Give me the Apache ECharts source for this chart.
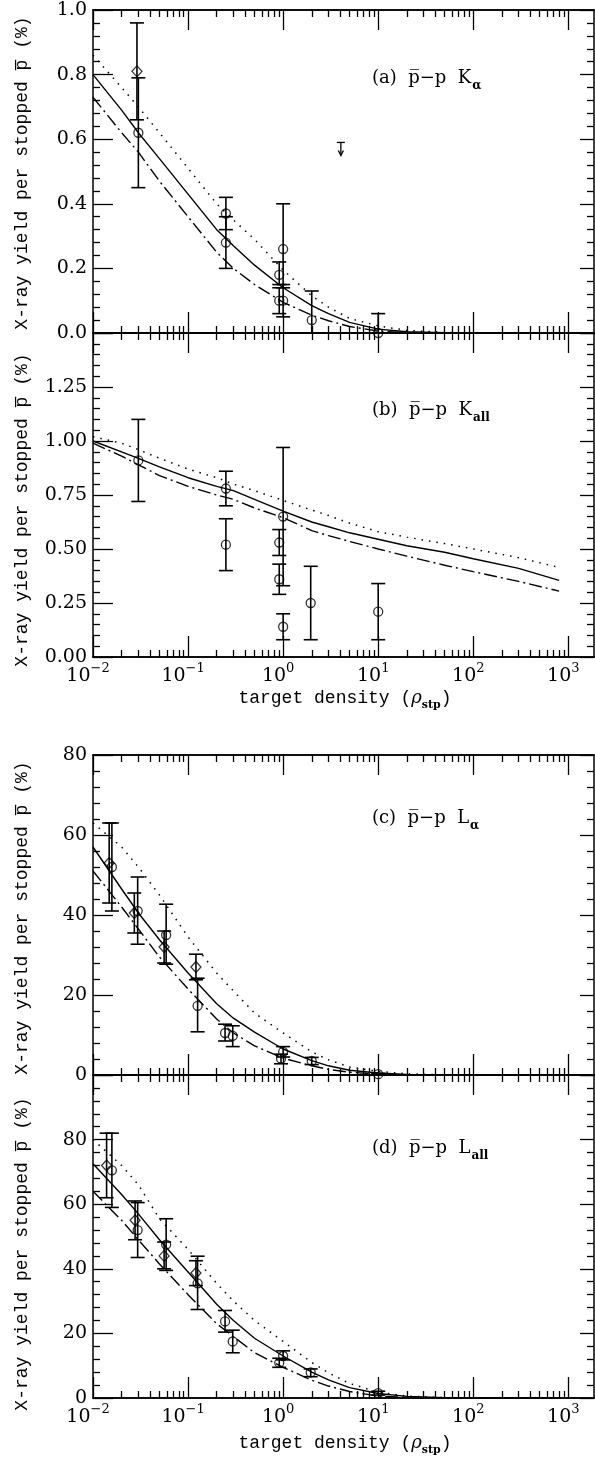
<!DOCTYPE html>
<html>
<head>
<meta charset="utf-8">
<script src="https://cdn.jsdelivr.net/npm/echarts@6/dist/echarts.min.js"></script>
<style>
html,body{margin:0;padding:0;background:#fff;}
#main{width:595px;height:1461px;}
</style>
</head>
<body>
<div id="main"></div>
<script>
var lg = Math.log10;
var FONT = 'DejaVu Serif';
var MONO = 'Liberation Mono';
var XMIN = -2, XMAX = 3.27;

var curveRho = [0.01,0.02,0.03,0.05,0.1,0.2,0.3,0.5,1,2,3,5,10,20,50,100,300,800];

// (a) pbar-p K alpha
var kaSolid  = [0.80,0.69,0.62,0.54,0.43,0.32,0.27,0.21,0.14,0.085,0.06,0.033,0.012,0.004,0.001,0,0,0];
var kaDotted = [0.86,0.76,0.70,0.62,0.51,0.40,0.35,0.29,0.195,0.115,0.08,0.045,0.022,0.008,0.002,0,0,0];
var kaDashed = [0.73,0.62,0.56,0.47,0.36,0.25,0.20,0.15,0.095,0.055,0.038,0.02,0.006,0.001,0,0,0,0];
// [density, yield, low, high]
var kaCircles = [[0.030,0.62,0.45,0.79],[0.25,0.37,0.32,0.42],[0.25,0.28,0.20,0.36],[1.0,0.26,0.14,0.40],
                 [0.91,0.18,0.15,0.22],[0.91,0.10,0.06,0.14],[1.0,0.10,0.05,0.15],[2.0,0.04,0.0,0.13],[10,0.0,0.0,0.06]];
var kaDiamonds = [[0.029,0.81,0.66,0.96]];
var kaLimits = [[4.05,0.59]];

// (b) pbar-p K all
var kallSolid  = [1.00,0.95,0.92,0.88,0.83,0.79,0.77,0.73,0.675,0.625,0.603,0.575,0.545,0.515,0.485,0.455,0.41,0.355];
var kallDotted = [1.02,0.99,0.96,0.92,0.87,0.83,0.80,0.77,0.725,0.68,0.655,0.62,0.58,0.555,0.525,0.50,0.46,0.415];
var kallDashed = [0.99,0.93,0.89,0.84,0.79,0.75,0.73,0.69,0.645,0.585,0.562,0.535,0.50,0.467,0.425,0.395,0.35,0.305];
var kallCircles = [[0.030,0.91,0.72,1.10],[0.25,0.78,0.70,0.86],[0.25,0.52,0.40,0.64],[1.0,0.65,0.33,0.97],
                   [0.91,0.53,0.47,0.59],[0.91,0.36,0.29,0.43],[1.0,0.14,0.08,0.20],[1.95,0.25,0.08,0.42],[10,0.21,0.08,0.34]];

// (c) pbar-p L alpha
var laSolid  = [57,46.5,40.5,33.8,25.5,17.8,14.2,10.7,6.5,3.6,2.3,1.2,0.5,0.15,0.03,0,0,0];
var laDotted = [63,57,52,45,34.5,25.5,21,15.5,10.5,5.8,3.8,2.0,0.9,0.3,0.05,0,0,0];
var laDashed = [51,42,36.5,29.5,21.5,14,10.5,7.3,4.2,2.3,1.4,0.7,0.2,0.05,0,0,0,0];
var laCircles = [[0.0158,52,41,63],[0.0295,41,32.7,49.5],[0.0588,35,27.7,42.7],[0.126,17.3,10.8,24.2],[0.245,10.5,8.5,12.7],
                 [0.295,9.8,7.1,12.3],[1.0,5.8,4.5,7.1],[0.95,4.1,2.8,5.2],[2.0,3.5,2.6,4.4],[10,0.2,0,0.4]];
var laDiamonds = [[0.0148,53,43,63],[0.0272,40.5,35.5,45.5],[0.056,32,28,36],[0.121,27,23.8,30.2]];

// (d) pbar-p L all
var lallSolid  = [72.5,63,57,49,39,29,24,18.5,13,8,5.6,3.2,1.4,0.5,0.1,0,0,0];
var lallDotted = [80,72,66,55.5,46,35.5,30,24,17.5,11,7.8,4.5,1.8,0.6,0.1,0,0,0];
var lallDashed = [64,55,49,41.5,32,23,19,14,9.5,5.5,3.7,2.0,0.6,0.2,0,0,0,0];
var lallCircles = [[0.0158,70.5,59,82],[0.0295,52,43.5,60.5],[0.0588,47.5,39.5,55.5],[0.126,35.5,27.4,43.9],[0.245,23.7,20.4,27.1],
                   [0.295,17.5,14,21],[1.0,13,11.8,14.6],[0.91,10.9,9.5,12.3],[1.95,7.9,6.6,9.0],[10,1.5,0.9,2.1]];
var lallDiamonds = [[0.0139,72,62,82],[0.0277,55,49,61],[0.056,44,40,48.3],[0.121,38.7,34.8,42.5]];

var xTickExp = [-2,-1,0,1,2,3];
var panelTags = ['(a)','(b)','(c)','(d)'];
var panelLines = ['K','K','L','L'];
var panelSubs = ['\u03b1','all','\u03b1','all'];
var yMax = [1.0,1.5,80,100];
var yStep = [0.2,0.25,20,20];

var grids = [
    {left:93, top:10, width:501, height:323},
    {left:93, top:333, width:501, height:324},
    {left:93, top:755, width:501, height:320},
    {left:93, top:1075, width:501, height:323}
];

var minorVals = [];
for (var n = -2; n <= 3; n++) {
    for (var k = 2; k <= 9; k++) {
        var v = lg(k * Math.pow(10, n));
        if (v < XMAX) minorVals.push(v);
    }
}

var black = {color:'#000', width:1.5};
var tickStyle = {color:'#000', width:1.3};

function xAx(gi, pos, vals, len, labels) {
    var ax = {
        type:'value', gridIndex:gi, position:pos, min:XMIN, max:XMAX,
        axisLine:{show:true, onZero:false, lineStyle:black},
        splitLine:{show:false},
        axisTick:{show:true, inside:true, length:len, customValues:vals, lineStyle:tickStyle},
        axisLabel:{show:false}
    };
    if (labels) {
        ax.axisLabel = {
            show:true, customValues:xTickExp, margin:5, padding:[0,10,0,0],
            formatter:function (v) {
                var e = Math.round(v);
                return '{b|10}{s|' + (e < 0 ? '\u2212' + (-e) : e) + '}';
            },
            rich:{
                b:{fontFamily:FONT, fontSize:19, color:'#000', lineHeight:24, verticalAlign:'bottom'},
                s:{fontFamily:FONT, fontSize:13, color:'#000', lineHeight:13, verticalAlign:'top'}
            }
        };
    }
    return ax;
}

function yAx(gi, pos, fmt) {
    var ax = {
        type:'value', gridIndex:gi, position:pos, min:0, max:yMax[gi], interval:yStep[gi],
        axisLine:{show:true, onZero:false, lineStyle:black},
        splitLine:{show:false},
        axisTick:{show:true, inside:true, length:pos === 'left' ? 20 : 14, lineStyle:tickStyle},
        minorTick:{show:true, splitNumber:5, length:7, lineStyle:tickStyle},
        axisLabel:{show:false}
    };
    if (fmt) {
        ax.axisLabel = {show:true, formatter:fmt, color:'#000', fontFamily:FONT, fontSize:19, margin:6};
    }
    return ax;
}

var yFmt = [
    function (v) { return v.toFixed(1); },
    function (v) { return v >= 1.5 ? '' : v.toFixed(2); },
    function (v) { return String(v); },
    function (v) { return v >= 100 ? '' : String(v); }
];

var xAxes = [], yAxes = [];
for (var g = 0; g < 4; g++) {
    var lab = (g === 1 || g === 3);
    xAxes.push(xAx(g, 'bottom', xTickExp, 21, lab));
    xAxes.push(xAx(g, 'bottom', minorVals, 7, false));
    xAxes.push(xAx(g, 'top', xTickExp, 20, false));
    xAxes.push(xAx(g, 'top', minorVals, 7, false));
    yAxes.push(yAx(g, 'left', yFmt[g]));
    yAxes.push(yAx(g, 'right', null));
}

function errRender(params, api) {
    var x = api.value(0);
    var top = api.coord([x, api.value(3)]);
    var bot = api.coord([x, api.value(2)]);
    var w = 7;
    var st = {stroke:'#000', lineWidth:1.6};
    return {type:'group', children:[
        {type:'line', shape:{x1:top[0], y1:top[1], x2:bot[0], y2:bot[1]}, style:st},
        {type:'line', shape:{x1:top[0]-w, y1:top[1], x2:top[0]+w, y2:top[1]}, style:st},
        {type:'line', shape:{x1:bot[0]-w, y1:bot[1], x2:bot[0]+w, y2:bot[1]}, style:st}
    ]};
}

function limitRender(params, api) {
    var p = api.coord([api.value(0), api.value(1)]);
    var st = {stroke:'#000', lineWidth:1.3, fill:null};
    return {type:'group', children:[
        {type:'line', shape:{x1:p[0]-4, y1:p[1], x2:p[0]+4, y2:p[1]}, style:st},
        {type:'line', shape:{x1:p[0], y1:p[1], x2:p[0], y2:p[1]+13}, style:st},
        {type:'polyline', shape:{points:[[p[0]-2.5,p[1]+8],[p[0],p[1]+13],[p[0]+2.5,p[1]+8]]}, style:st}
    ]};
}

function toLog(pts) {
    return pts.map(function (p) { return [lg(p[0]), p[1], p[2], p[3]]; });
}

var series = [];
function addPanel(gi, solid, dotted, dashed, circles, diamonds) {
    var xi = gi * 4, yi = gi * 2;
    var curves = [[solid, 'solid', 1.4], [dotted, [1.5, 6], 1.5], [dashed, [13, 4, 2, 4], 1.4]];
    curves.forEach(function (c) {
        series.push({
            type:'line', xAxisIndex:xi, yAxisIndex:yi, showSymbol:false, smooth:false,
            lineStyle:{color:'#000', width:c[2], type:c[1]}, z:2,
            data:curveRho.map(function (r, i) { return [lg(r), c[0][i]]; })
        });
    });
    var pts = circles.concat(diamonds);
    series.push({
        type:'custom', xAxisIndex:xi, yAxisIndex:yi, renderItem:errRender, z:3,
        encode:{x:0, y:1}, data:toLog(pts)
    });
    series.push({
        type:'scatter', xAxisIndex:xi, yAxisIndex:yi, symbol:'circle', symbolSize:9, z:4,
        itemStyle:{color:'rgba(255,255,255,0)', borderColor:'#000', borderWidth:1.3},
        data:toLog(circles)
    });
    if (diamonds.length) {
        series.push({
            type:'scatter', xAxisIndex:xi, yAxisIndex:yi, symbol:'diamond', symbolSize:[10,11], z:4,
            itemStyle:{color:'rgba(255,255,255,0)', borderColor:'#000', borderWidth:1.3},
            data:toLog(diamonds)
        });
    }
}
addPanel(0, kaSolid, kaDotted, kaDashed, kaCircles, kaDiamonds);
addPanel(1, kallSolid, kallDotted, kallDashed, kallCircles, []);
addPanel(2, laSolid, laDotted, laDashed, laCircles, laDiamonds);
addPanel(3, lallSolid, lallDotted, lallDashed, lallCircles, lallDiamonds);
series.push({
    type:'custom', xAxisIndex:0, yAxisIndex:0, renderItem:limitRender, z:4,
    encode:{x:0, y:1}, data:kaLimits.map(function (p) { return [lg(p[0]), p[1]]; })
});

// texts
var graphics = [];
var yTitleY = [173, 510, 918, 1254];
var tagY = [80, 412, 820, 1150];
for (var i = 0; i < 4; i++) {
    graphics.push({
        type:'text', x:22, y:yTitleY[i], rotation:Math.PI / 2,
        style:{text:'X-ray yield per stopped p\u0305 (%)', fontFamily:MONO, fontSize:18, fill:'#000',
               textAlign:'center', textVerticalAlign:'middle'}
    });
    graphics.push({
        type:'text', x:372, y:tagY[i],
        style:{
            text:'{b|' + panelTags[i] + '  p\u0305\u2212p  ' + panelLines[i] + '}{s|' + panelSubs[i] + '}',
            textVerticalAlign:'middle', fill:'#000',
            rich:{
                b:{fontFamily:FONT, fontSize:18, lineHeight:22, verticalAlign:'top'},
                s:{fontFamily:FONT, fontSize:12, fontWeight:'bold', lineHeight:12, verticalAlign:'top', padding:[11,0,0,1]}
            }
        }
    });
}
[700, 1445].forEach(function (yy) {
    graphics.push({
        type:'text', x:345, y:yy,
        style:{
            text:'{b|target density (}{r|\u03c1}{s|stp}{b|)}',
            textAlign:'center', textVerticalAlign:'middle', fill:'#000',
            rich:{
                b:{fontFamily:MONO, fontSize:18, lineHeight:22, verticalAlign:'top'},
                r:{fontFamily:FONT, fontSize:18, fontStyle:'italic', lineHeight:22, verticalAlign:'top'},
                s:{fontFamily:FONT, fontSize:11, fontWeight:'bold', lineHeight:12, verticalAlign:'top', padding:[11,0,0,0]}
            }
        }
    });
});

var chart = echarts.init(document.getElementById('main'));
chart.setOption({
    animation:false,
    backgroundColor:'#fff',
    grid:grids,
    xAxis:xAxes,
    yAxis:yAxes,
    series:series,
    graphic:graphics
});
</script>
</body>
</html>
